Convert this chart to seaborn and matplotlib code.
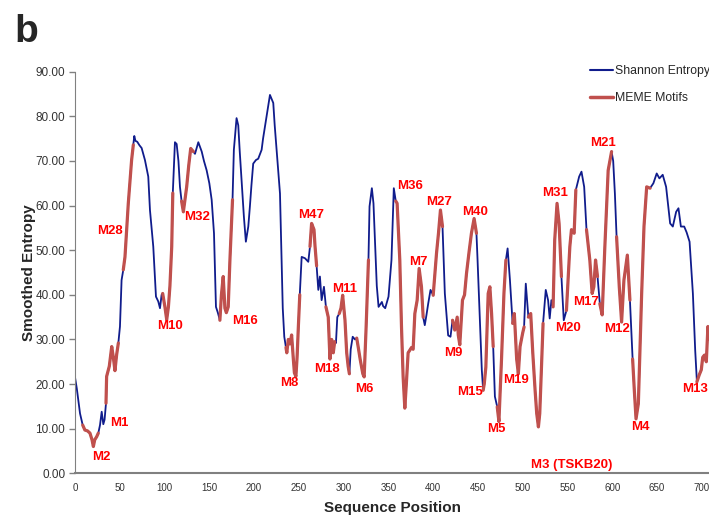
import matplotlib
matplotlib.use("Agg")
import matplotlib.pyplot as plt
from matplotlib.lines import Line2D
import seaborn as sns
import pandas as pd
import numpy as np

# smoothed Shannon entropy along the sequence
position = [
    0, 2, 5.6, 8.6, 11, 14, 16.7, 19, 20.5, 22, 24.2, 26, 27.9, 29.8, 31.6, 33,
    34.6, 35.3, 38.3, 41, 42.8, 44.6, 46.5, 48.4, 50.2, 52, 53.9, 55.8, 59.5,
    63.2, 65.1, 66.2, 67.5, 69.5, 72, 74.4, 78.1, 81.8, 83.7, 87.4, 90.4, 93,
    94.9, 96.7, 97.9, 100.4, 102.4, 104.3, 106, 108, 109.2, 111.6, 113.5, 115.5,
    117.2, 119, 121, 124.7, 127, 129.2, 132.2, 134, 137.7, 141.5, 144, 147, 150,
    152.6, 155.2, 157.4, 159.5, 161.8, 163.5, 165.5, 167.4, 169, 171.1, 173,
    175.9, 177.4, 180.4, 182.3, 184, 186, 188.6, 190.8, 193.5, 195.3, 197, 199,
    202, 204.6, 208.4, 210, 212.1, 215, 217.7, 221.4, 223, 225.1, 228.9, 230.7,
    232, 233.7, 235.6, 236.5, 238.2, 240, 241.9, 243.8, 245, 246.7, 248, 249.4,
    251, 253.1, 256.8, 260.5, 262.4, 264.2, 266.9, 268, 269.8, 271.7, 273.5,
    275.4, 278, 280.2, 282.8, 284.7, 286.6, 288.4, 290, 291.4, 292.9, 295.1, 297,
    298.9, 301.5, 303.4, 305, 306.4, 307.9, 310.1, 312.7, 314.6, 316.5, 318.4,
    321.4, 322.9, 325.1, 327.7, 328.9, 331.5, 333.3, 335.2, 337, 339, 342.7, 344,
    346.4, 350.1, 353.4, 356, 358.2, 359.7, 362.7, 364.6, 366.4, 368.3, 370, 372,
    375.8, 377.6, 379.5, 382.1, 384.3, 386.9, 388.8, 390.6, 392.5, 394.4, 397,
    400, 403.7, 405.9, 408.1, 410.4, 413, 416.7, 419.3, 421.6, 424.1, 426.8, 428,
    429.7, 432.7, 435, 437.2, 440.1, 442.7, 445.7, 448.3, 449.4, 452, 454.3,
    455.8, 457, 458.8, 461.4, 463.3, 465.2, 467, 468.9, 471.5, 473.4, 476.3, 479,
    481.2, 483.1, 485.7, 488.7, 490.6, 493.2, 495.1, 497, 500, 501.5, 503.4,
    506.3, 508.9, 511.2, 513.8, 515.6, 517.5, 519, 520.8, 522.7, 525.7, 528.3,
    530.1, 532, 533.9, 535.7, 538.3, 540.6, 543.2, 545.8, 548.8, 552.6, 554.4,
    557.4, 559.3, 563, 565.6, 568.6, 571.2, 574.9, 577.5, 579.4, 581.3, 583.5,
    586.1, 588.7, 591.7, 595.4, 599.2, 601, 602.9, 604.8, 607.8, 610.4, 613,
    616.8, 619.7, 622.7, 624.6, 626.5, 629.1, 632.8, 635.4, 638.4, 642.2, 645.9,
    649.6, 652.6, 656.3, 660.1, 664.6, 667.6, 671.3, 673.9, 676.6, 680.3, 683,
    686.3, 690, 692.6, 694.5, 697, 699.4, 701, 703, 705, 706.8, 708,
]
entropy = [
    21.5, 19, 13.4, 10.8, 9.7, 9.5, 9.0, 7.5, 6.0, 7.5, 8.2, 9, 10.8, 13.8, 11, 12,
    15.7, 21.7, 24, 28.4, 26, 23, 26.6, 29.2, 32.9, 43.3, 45.6, 48.5, 60.5,
    70.2, 73.6, 75.6, 74.5, 74.3, 73.5, 72.9, 70.2, 66.5, 59, 50.8, 39.6, 38.5,
    37, 40, 40.3, 37.3, 34.4, 37.3, 42, 50.8, 62.8, 74.2, 73.8, 70,
    64.2, 61, 58.6, 64.2, 69, 72.8, 72.1, 71.6, 74.2, 72.1, 70, 67.9, 65,
    61.3, 53.8, 37.3, 36, 34.3, 40, 44.1, 37, 36, 37.3, 47.8,
    61.3, 72.5, 79.6, 78, 72, 65.7, 57.5, 51.9, 55.3, 59.8, 64.5, 69.4,
    70.2, 70.5, 72.5, 75, 77.7, 81.5, 84.8, 83, 78, 72.5, 62.7, 47.8,
    37, 30.6, 28.2, 27, 30, 29, 31, 25.6, 22.5, 21.7, 26, 32.8,
    40, 48.5, 48.2, 47.4, 50.8, 56, 54.6, 51, 46.5, 41.1, 44.1,
    38.8, 41.8, 37.3, 35, 25.6, 30, 27, 29.5, 29.2, 35, 35.8, 37,
    39.9, 34.3, 27, 24, 22.3, 27.8, 30.6, 30, 30.3, 28, 25.6,
    22.3, 21.6, 32.8, 47.8, 59.8, 63.9, 60.5, 50.8, 42, 37.3, 38.4, 37.5,
    37, 39.6, 47.8, 63.9, 61, 60.5, 47.8, 32.8, 21.7, 14.6, 20, 27,
    28.2, 27.8, 35.8, 38.8, 45.9, 41.8, 35, 33.2, 35.5, 38, 41.1,
    39.9, 49.3, 53.8, 59, 55.3, 40.3, 30.9, 30.6, 34.3, 32.1, 35, 31,
    28.8, 38.8, 40, 44.8, 49.7, 53.8, 57.1, 53.8, 48.5, 35, 23.1,
    18.6, 20, 23.8, 40.3, 41.8, 35.8, 28.4, 17.2, 14.9, 11.6, 25.6, 40.3,
    47.8, 50.4, 43.3, 33.6, 35.8, 25.6, 22.3, 28.4, 31.5, 32.8, 42.5,
    35, 35.8, 27, 18.6, 13.4, 10.4, 13.4, 23.1, 33.6, 41.1, 38.8,
    34.7, 38.8, 37.3, 52.3, 60.5, 56, 44.1, 34.3, 36.5, 50.8, 54.6,
    53.8, 63.5, 66.5, 67.6, 64.2, 54.6, 47.8, 40.3, 41.8, 47.8, 44.1,
    38, 35.5, 50.8, 67.9, 72.1, 70, 62.7, 53, 41.8, 33.9, 43.3,
    48.9, 38.8, 25.6, 18.6, 12.2, 15.6, 40.3, 55.3, 64.2, 63.9, 65,
    67.2, 66.1, 66.9, 64.2, 56, 55.3, 58.6, 59.4, 55.3, 55.3, 54,
    51.9, 40.3, 27.5, 20.5, 22, 23.2, 26, 26.5, 25, 32.9, 30,
]

# sequence ranges covered by MEME motifs
motif_start = [8.6, 34.6, 53.9, 97.9, 119, 161.8, 235.6, 262.4, 280.2, 295.1,
               314.6, 358.2, 400, 421.6, 455.8, 471.5, 488.7, 506.3, 533.9,
               548.8, 571.2, 586.1, 604.8, 622.7, 694.5]
motif_end = [26, 48.4, 65.1, 109.2, 132.2, 175.9, 251, 269.8, 290, 306.4,
             327.7, 388.8, 410.4, 448.3, 467, 481.2, 501.5, 522.7, 543.2,
             559.3, 583.5, 599.2, 619.7, 642.2, 708]

motif_names = ["M2", "M1", "M28", "M10", "M32", "M16", "M8", "M47", "M18", "M11",
               "M6", "M36", "M27", "M7", "M40", "M9", "M15", "M5", "M19",
               "M3 (TSKB20)", "M31", "M20", "M17", "M21", "M12", "M4", "M13"]
name_x = [29, 49, 39, 106, 136, 190, 239, 264, 281, 301, 323, 374, 407, 384,
          447, 423, 441, 470, 493, 555, 536, 551, 571, 590, 605, 631, 692]
name_y = [3.7, 11.2, 54.3, 32.9, 57.5, 34.1, 20.2, 57.9, 23.4, 41.2, 19, 64.4,
          60.7, 47.4, 58.6, 27, 18.2, 9.9, 20.9, 1.9, 62.8, 32.5, 38.5, 74,
          32.3, 10.3, 18.8]

blue = "#101c8c"
red = "#c0504d"

df = pd.DataFrame({"position": position, "entropy": entropy})

sns.set_style("white")
plt.rcParams["font.family"] = ["Liberation Sans", "DejaVu Sans"]

fig = plt.figure(figsize=(7.09, 5.22), dpi=100)
ax = fig.add_axes([0.1058, 0.0933, 0.8942, 0.7693])

sns.lineplot(data=df, x="position", y="entropy", color=blue, linewidth=1.3,
             ax=ax, sort=True)
for s, e in zip(motif_start, motif_end):
    part = df[(df["position"] >= s) & (df["position"] <= e)]
    sns.lineplot(data=part, x="position", y="entropy", color=red,
                 linewidth=2.3, ax=ax, sort=True)

for name, x, y in zip(motif_names, name_x, name_y):
    ax.text(x, y, name, color="#ff0000", fontsize=9.5, fontweight="bold",
            ha="center", va="center")

ax.set_xlim(0, 708)
ax.set_ylim(0, 90)
ax.set_xticks(range(0, 701, 50))
ax.set_yticks(range(0, 91, 10))
ax.set_yticklabels([f"{v:.2f}" for v in range(0, 91, 10)])
ax.tick_params(axis="y", length=4, width=1, color="#808080", labelsize=8.5,
               labelcolor="#333333", pad=3, left=True)
ax.tick_params(axis="x", length=0, labelsize=7, labelcolor="#333333", pad=7)

ax.spines["top"].set_visible(False)
ax.spines["right"].set_visible(False)
ax.spines["left"].set_color("#808080")
ax.spines["bottom"].set_color("#808080")
ax.spines["bottom"].set_linewidth(1.5)

ax.set_xlabel("Sequence Position", fontsize=11, fontweight="bold", labelpad=6)
ax.set_ylabel("Smoothed Entropy", fontsize=11, fontweight="bold", labelpad=0)

handles = [Line2D([], [], color=blue, linewidth=1.5),
           Line2D([], [], color=red, linewidth=2.5)]
fig.legend(handles, ["Shannon Entropy", "MEME Motifs"], loc="upper left",
           bbox_to_anchor=(0.832, 0.875), frameon=False, fontsize=8.8,
           handlelength=1.9, handletextpad=0.15, labelspacing=1.2,
           borderpad=0, borderaxespad=0)

fig.text(0.02, 0.92, "b", fontsize=28, fontweight="bold", ha="left",
         va="baseline")

fig.savefig("out.png", dpi=100)
